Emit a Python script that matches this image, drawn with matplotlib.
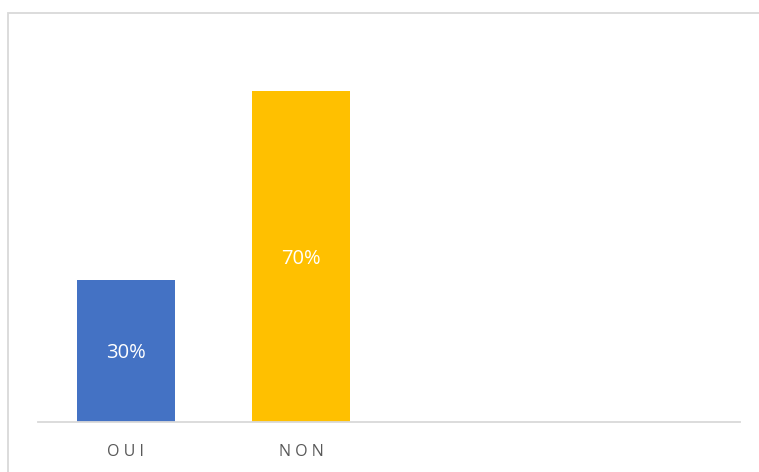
import matplotlib
matplotlib.use("Agg")
import matplotlib.pyplot as plt
from matplotlib.patches import Rectangle

categories = ["OUI", "NON", "", ""]
values = [0.30, 0.70, None, None]
bar_colors = ["#4472C4", "#FFC000", "#FFFFFF", "#FFFFFF"]

plt.rcParams["font.family"] = ["Open Sans", "DejaVu Sans"]

W, H = 759, 472
fig = plt.figure(figsize=(W / 100, H / 100), dpi=100)

# chart-area frame (runs off the right and bottom edges)
fig.patches.append(Rectangle((8 / W, -0.1), 1.0, (H - 13) / H + 0.1,
                             transform=fig.transFigure, fill=False,
                             edgecolor="#D9D9D9", linewidth=1.3))

left, right, base = 38 / W, 740 / W, 50 / H
ymax = 0.8
px_per_unit = 142 / 0.30
ax = fig.add_axes([left, base, right - left, ymax * px_per_unit / H])

x = list(range(len(categories)))
for i, (v, c) in enumerate(zip(values, bar_colors)):
    if v is None:
        continue
    ax.bar(i, v, width=0.56, color=c, zorder=2)
    ax.text(i, v / 2, f"{round(v * 100)}%", ha="center",
            va="center_baseline", color="white", fontsize=14.5)

ax.set_xlim(-0.5, len(categories) - 0.5)
ax.set_ylim(0, ymax)
ax.set_xticks(x)
ax.set_xticklabels([" ".join(c) for c in categories], color="#595959",
                   fontsize=11.5)
ax.tick_params(axis="x", length=0, pad=16)
ax.set_yticks([])
for s in ["top", "right", "left"]:
    ax.spines[s].set_visible(False)
ax.spines["bottom"].set_color("#D9D9D9")
ax.spines["bottom"].set_linewidth(1.3)
ax.patch.set_alpha(0)

fig.savefig("out.png", dpi=100)
